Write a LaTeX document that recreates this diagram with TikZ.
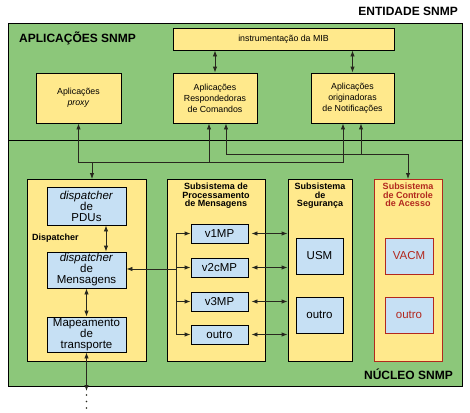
\documentclass[tikz,border=0pt]{standalone}
\usepackage{fontspec}
\setmainfont{Liberation Sans}
\usepackage{xcolor}
\usetikzlibrary{arrows.meta}
\definecolor{grn}{RGB}{140,199,122}
\definecolor{ylw}{RGB}{255,233,140}
\definecolor{blu}{RGB}{198,224,244}
\definecolor{redc}{RGB}{178,40,30}
\definecolor{wirec}{RGB}{40,40,30}

\begin{document}
\begin{tikzpicture}[%
  x=1pt, y=-1pt,
  >={Latex[length=6pt,width=4.4pt]},
  wire/.style={draw=wirec, line width=.8pt},
  big/.style={font=\fontsize{12}{12}\selectfont\bfseries, inner sep=0pt},
  appbox/.style={draw, fill=ylw, line width=.8pt, align=center, inner sep=0pt,
    font=\fontsize{8.8}{11}\selectfont},
  subbox/.style={draw, fill=ylw, line width=.8pt, anchor=north, inner sep=0pt,
    minimum height=182pt},
  modbox/.style={draw, fill=blu, line width=.8pt, align=center, inner sep=0pt,
    font=\fontsize{11.5}{11}\selectfont},
  redbox/.style={modbox, draw=redc, text=redc},
  ttl/.style={font=\fontsize{9}{8.5}\selectfont\bfseries, align=center,
    inner sep=0pt, anchor=north}]
\useasboundingbox (0,0) rectangle (470,412);
\node[big, anchor=east] (entlbl) at (458,11) {ENTIDADE SNMP};
\node[draw, fill=grn, line width=1pt, anchor=north west, inner sep=0pt,
  minimum width=454pt, minimum height=363pt] (ent) at (8,23) {};
\coordinate (divy) at (0,140);
\draw[line width=.8pt] (ent.west |- divy) -- (ent.east |- divy);

\node[big, anchor=west] (applbl) at (19,38) {APLICAÇÕES SNMP};
\node[appbox, minimum width=221pt, minimum height=22pt] (mib) at (283.5,39)
  {instrumentação da MIB};
\node[appbox, minimum width=85pt, minimum height=50pt] (proxy) at (78.5,98)
  {Aplicações\\\textit{proxy}};
\node[appbox, minimum width=84pt, minimum height=50pt] (resp) at (215,98)
  {Aplicações\\Respondedoras\\de Comandos};
\node[appbox, minimum width=83pt, minimum height=50pt] (orig) at (352.5,98)
  {Aplicações\\originadoras\\de Notificações};
\draw[wire,<->] (mib.south -| resp) -- (resp.north);
\draw[wire,<->] (mib.south -| orig) -- (orig.north);

\node[subbox, minimum width=119pt] (disp) at (86.5,179) {};
\node[ttl, anchor=west] (displbl) at (32,238) {Dispatcher};
\node[modbox, minimum width=79pt, minimum height=38pt] (pdu) at (86.5,206)
  {\textit{dispatcher}\\de\\PDUs};
\node[modbox, minimum width=79pt, minimum height=36pt] (msg) at (86.5,270)
  {\textit{dispatcher}\\de\\Mensagens};
\node[modbox, minimum width=79pt, minimum height=35pt] (map) at (86.5,334.5)
  {Mapeamento\\de\\transporte};
\coordinate (net) at (86.5,391);
\draw[wire,<->] ([xshift=19.5pt]pdu.south) -- ([xshift=19.5pt]msg.north);
\draw[wire,<->] (msg.south) -- (map.north);
\draw[wire,<->] (map.south) -- (net);
\draw[wire, line width=1.8pt, line cap=round, dash pattern=on 0pt off 6.5pt]
  ([yshift=-4pt]net) -- ++(0,13.5);

\node[subbox, minimum width=98pt] (proc) at (216,179) {};
\node[ttl] (proclbl) at (216,183) {Subsistema de\\Processamento\\de Mensagens};
\node[modbox, minimum width=57pt, minimum height=19pt] (v1) at (219.5,233.5) {v1MP};
\node[modbox, minimum width=57pt, minimum height=19pt] (v2c) at (219.5,267.5) {v2cMP};
\node[modbox, minimum width=57pt, minimum height=19pt] (v3) at (219.5,301.5) {v3MP};
\node[modbox, minimum width=57pt, minimum height=19pt] (mpo) at (219.5,334.5) {outro};

\node[subbox, minimum width=64pt] (sec) at (320,179) {};
\node[ttl] (seclbl) at (320,183) {Subsistema\\de\\Segurança};
\node[modbox, minimum width=47pt, minimum height=36pt] (usm) at (319.5,256) {USM};
\node[modbox, minimum width=47pt, minimum height=36pt] (seco) at (319.5,315) {outro};

\node[subbox, draw=redc, minimum width=68pt] (acm) at (408,179) {};
\node[ttl, text=redc] (acmlbl) at (408,183) {Subsistema\\de Controle\\de Acesso};
\node[redbox, minimum width=48pt, minimum height=36pt] (vacm) at (409,256) {VACM};
\node[redbox, minimum width=48pt, minimum height=36pt] (acmo) at (409,315) {outro};

\node[big, anchor=east] (corelbl) at (453,374) {NÚCLEO SNMP};

\coordinate (bus1) at (0,162);
\coordinate (bus2) at (0,154);
\coordinate (r1) at ([xshift=-6pt]resp.south);
\coordinate (r2) at ([xshift=11pt]resp.south);
\coordinate (o1) at ([xshift=-9.5pt]orig.south);
\coordinate (o2) at ([xshift=8.5pt]orig.south);
\coordinate (d1) at ([xshift=5.5pt]disp.north);
\draw[wire,<->] (proxy.south) -- (proxy.south |- bus1) -| (o1);
\draw[wire,->] (r1 |- bus1) -- (r1);
\draw[wire,->] (d1 |- bus1) -- (d1);
\draw[wire,<->] (r2) -- (r2 |- bus2) -| (acm.north);
\draw[wire,->] (o2 |- bus2) -- (o2);

\coordinate (split) at (176,269);
\draw[wire,<-] (msg.east |- split) -- (split);
\draw[wire] (split |- v1) -- (split |- mpo);
\draw[wire,->] (split |- v1) -- (v1.west);
\draw[wire,->] (split |- v2c) -- (v2c.west);
\draw[wire,->] (split |- v3) -- (v3.west);
\draw[wire,->] (split |- mpo) -- (mpo.west);
\draw[wire,<->] ([xshift=3pt]v1.east) -- (v1.east -| sec.west);
\draw[wire,<->] ([xshift=3pt]v2c.east) -- (v2c.east -| sec.west);
\draw[wire,<->] ([xshift=3pt]v3.east) -- (v3.east -| sec.west);
\draw[wire,<->] ([xshift=3pt]mpo.east) -- (mpo.east -| sec.west);
\end{tikzpicture}
\end{document}
